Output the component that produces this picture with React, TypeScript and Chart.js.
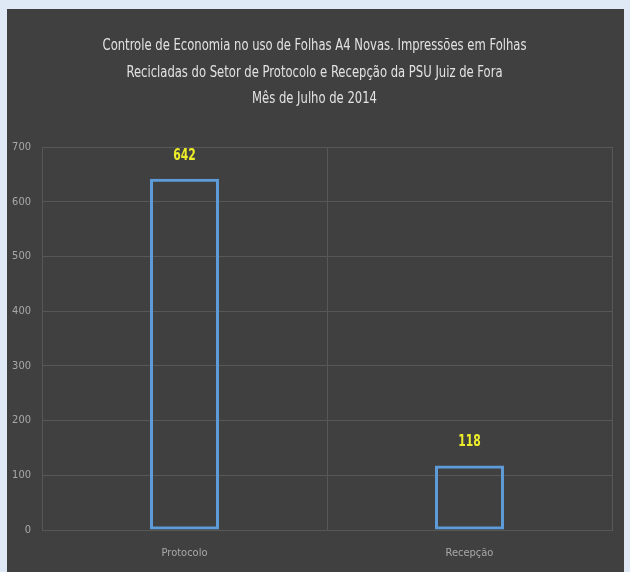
import React, { useEffect, useRef } from "react";
import { Chart, registerables } from "chart.js";

Chart.register(...registerables);

const titleLines = [
  "Controle de Economia no uso de Folhas A4 Novas. Impressões em Folhas",
  "Recicladas do Setor de Protocolo e Recepção da PSU Juiz de Fora",
  "Mês de Julho de 2014",
];
const categories = ["Protocolo", "Recepção"];
const values = [642, 118];
const yMax = 700;
const yStep = 100;

const FONT = "'Liberation Sans Narrow', 'DejaVu Sans Condensed', sans-serif";

const valueLabels = {
  id: "valueLabels",
  afterDatasetsDraw(chart: any) {
    const ctx = chart.ctx;
    const meta = chart.getDatasetMeta(0);
    ctx.save();
    ctx.font = `bold 15px ${FONT}`;
    ctx.fillStyle = "#ecec2a";
    ctx.textAlign = "center";
    ctx.textBaseline = "middle";
    meta.data.forEach((bar: any, i: number) => {
      ctx.save();
      ctx.translate(bar.x, bar.y - 23);
      ctx.scale(0.8, 1);
      ctx.fillText(String(values[i]), 0, 0);
      ctx.restore();
    });
    ctx.restore();
  },
};

const narrowTitle = {
  id: "narrowTitle",
  afterDraw(chart: any) {
    const ctx = chart.ctx;
    ctx.save();
    ctx.font = `15px ${FONT}`;
    ctx.fillStyle = "#e2e2e2";
    ctx.textAlign = "center";
    ctx.textBaseline = "middle";
    const cx = chart.width / 2 - 1;
    titleLines.forEach((line, i) => {
      ctx.save();
      ctx.translate(cx, 37.5 + i * 26.5);
      ctx.scale(0.86, 1);
      ctx.fillText(line, 0, 0);
      ctx.restore();
    });
    ctx.restore();
  },
};

export default function App() {
  const ref = useRef<HTMLCanvasElement | null>(null);

  useEffect(() => {
    document.body.style.margin = "0";
    const chart = new Chart(ref.current as HTMLCanvasElement, {
      type: "bar",
      data: {
        labels: categories,
        datasets: [
          {
            data: values,
            backgroundColor: "rgba(0,0,0,0)",
            borderColor: "#5d9cd9",
            borderWidth: 3,
            borderSkipped: false,
            barPercentage: 0.242,
            categoryPercentage: 1,
          },
        ],
      },
      options: {
        animation: false,
        responsive: false,
        maintainAspectRatio: false,
        layout: { padding: { left: 0, right: 12, top: 138, bottom: 0 } },
        plugins: {
          legend: { display: false },
          tooltip: { enabled: false },
          title: { display: false },
        },
        scales: {
          x: {
            grid: { color: "#575757", lineWidth: 1, drawTicks: false, offset: true },
            border: { display: true, color: "#575757" },
            ticks: { color: "#a8a8a8", font: { family: FONT, size: 11 }, padding: 17 },
            afterFit: (s: any) => {
              s.height = 42;
            },
          },
          y: {
            min: 0,
            max: yMax,
            grid: { color: "#575757", lineWidth: 1, drawTicks: false },
            border: { display: true, color: "#575757" },
            ticks: {
              stepSize: yStep,
              color: "#a8a8a8",
              font: { family: FONT, size: 11 },
              padding: 11,
            },
            afterFit: (s: any) => {
              s.width = 35;
            },
          },
        },
      },
      plugins: [valueLabels, narrowTitle],
    });
    return () => chart.destroy();
  }, []);

  return (
    <div style={{ position: "relative", width: 630, height: 572, background: "#dfe9f5", overflow: "hidden" }}>
      <div style={{ position: "absolute", left: 7, top: 9, width: 617, height: 563, background: "#404040" }}>
        <canvas ref={ref} width={617} height={563} style={{ display: "block" }} />
      </div>
    </div>
  );
}
